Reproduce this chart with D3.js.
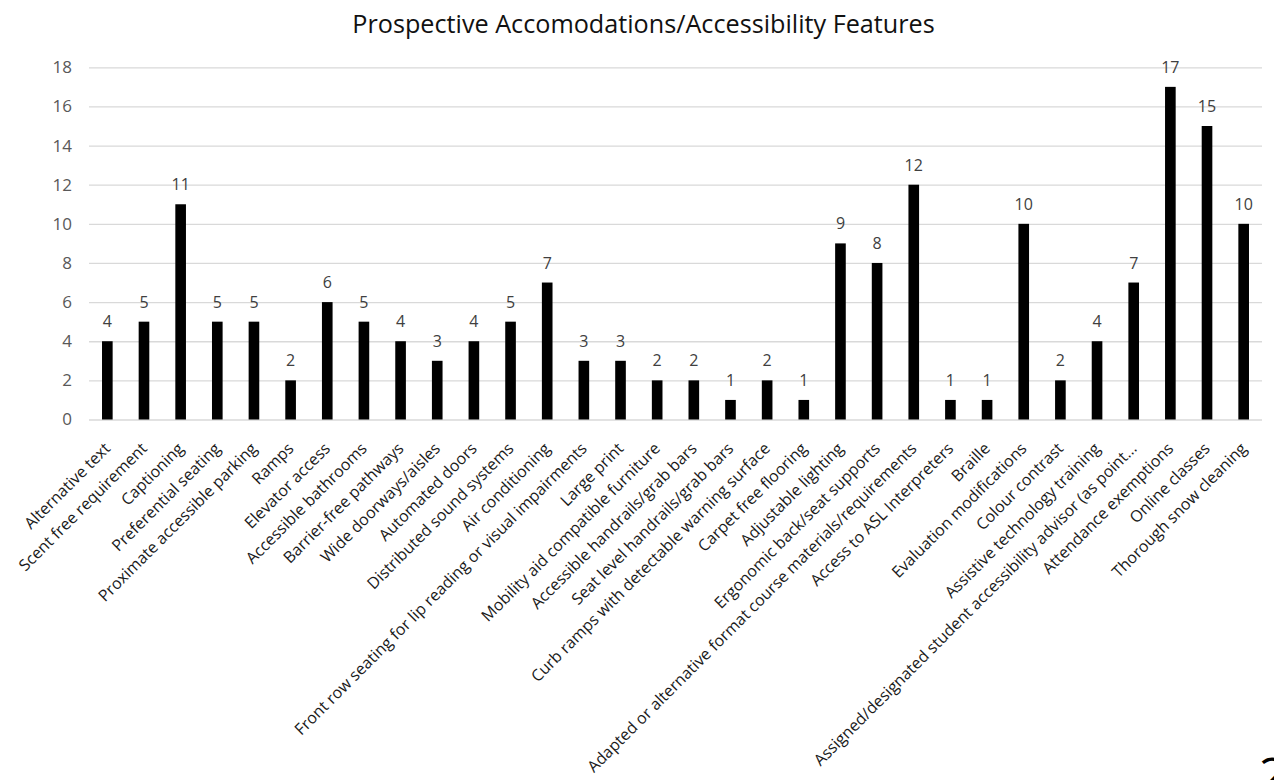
<!DOCTYPE html>
<html>
<head>
<meta charset="utf-8">
<script src="https://cdn.jsdelivr.net/npm/d3@7"></script>
<style>
  html, body { margin: 0; padding: 0; background: #fff; }
  svg { display: block; }
  text { font-family: "Open Sans", "Liberation Sans", sans-serif; }
</style>
</head>
<body>
<svg id="chart" width="1274" height="780"></svg>
<script>
const chartTitle = "Prospective Accomodations/Accessibility Features";

const categories = [
  "Alternative text",
  "Scent free requirement",
  "Captioning",
  "Preferential seating",
  "Proximate accessible parking",
  "Ramps",
  "Elevator access",
  "Accessible bathrooms",
  "Barrier-free pathways",
  "Wide doorways/aisles",
  "Automated doors",
  "Distributed sound systems",
  "Air conditioning",
  "Front row seating for lip reading or visual impairments",
  "Large print",
  "Mobility aid compatible furniture",
  "Accessible handrails/grab bars",
  "Seat level handrails/grab bars",
  "Curb ramps with detectable warning surface",
  "Carpet free flooring",
  "Adjustable lighting",
  "Ergonomic back/seat supports",
  "Adapted or alternative format course materials/requirements",
  "Access to ASL Interpreters",
  "Braille",
  "Evaluation modifications",
  "Colour contrast",
  "Assistive technology training",
  "Assigned/designated student accessibility advisor (as point...",
  "Attendance exemptions",
  "Online classes",
  "Thorough snow cleaning"
];

const counts = [4, 5, 11, 5, 5, 2, 6, 5, 4, 3, 4, 5, 7, 3, 3, 2, 2, 1, 2, 1, 9, 8, 12, 1, 1, 10, 2, 4, 7, 17, 15, 10];

const yTicks = [0, 2, 4, 6, 8, 10, 12, 14, 16, 18];

const pageNumber = "2";

const svg = d3.select("#chart");
const plot = { left: 89, right: 1262, top: 67.3, bottom: 419.5 };

const x = d3.scaleBand()
  .domain(categories)
  .range([plot.left, plot.right])
  .paddingInner(0.71)
  .paddingOuter(0.355);

const y = d3.scaleLinear()
  .domain([0, 18])
  .range([plot.bottom, plot.top]);

// Title
svg.append("text")
  .attr("x", 643.5)
  .attr("y", 33)
  .attr("text-anchor", "middle")
  .attr("font-size", 25.2)
  .attr("fill", "#111")
  .text(chartTitle);

// Horizontal gridlines and y tick labels
const yAxis = d3.axisLeft(y)
  .tickValues(yTicks)
  .tickSize(-(plot.right - plot.left))
  .tickPadding(17);

const gY = svg.append("g")
  .attr("transform", `translate(${plot.left},0)`)
  .call(yAxis);
gY.select(".domain").remove();
gY.selectAll(".tick line").attr("stroke", "#d9d9d9").attr("stroke-width", 1.3);
gY.selectAll(".tick text")
  .attr("font-size", 17)
  .attr("fill", "#595959")
  .attr("font-family", "'Open Sans', 'Liberation Sans', sans-serif");

// Bars
svg.append("g")
  .selectAll("rect")
  .data(categories)
  .join("rect")
  .attr("x", (d) => x(d))
  .attr("width", x.bandwidth())
  .attr("y", (d, i) => y(counts[i]))
  .attr("height", (d, i) => y(0) - y(counts[i]))
  .attr("fill", "#000");

// Value labels
svg.append("g")
  .selectAll("text")
  .data(categories)
  .join("text")
  .attr("x", (d) => x(d) + x.bandwidth() / 2)
  .attr("y", (d, i) => y(counts[i]) - 14)
  .attr("text-anchor", "middle")
  .attr("font-size", 16)
  .attr("fill", "#404040")
  .text((d, i) => counts[i]);

// Category axis labels, rotated
const xAxis = d3.axisBottom(x).tickSize(0).tickPadding(0);
const gX = svg.append("g")
  .attr("transform", `translate(0,${plot.bottom})`)
  .call(xAxis);
gX.select(".domain").remove();
gX.selectAll(".tick text")
  .attr("font-size", 16)
  .attr("fill", "#1a1a1a")
  .attr("font-family", "'Open Sans', 'Liberation Sans', sans-serif")
  .attr("text-anchor", "end")
  .attr("dy", null)
  .attr("y", 0)
  .attr("transform", "translate(4,30) rotate(-45)");

// Page number
svg.append("text")
  .attr("x", 1259)
  .attr("y", 792)
  .attr("font-size", 48)
  .attr("fill", "#000")
  .text(pageNumber);
</script>
</body>
</html>
